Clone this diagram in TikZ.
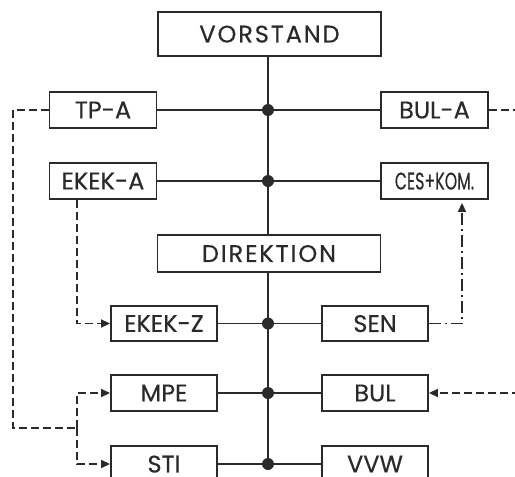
\documentclass[tikz,border=0pt]{standalone}
\usepackage{fontspec}
\setmainfont{Poppins}
\newfontfamily\boxfont{Poppins}[FakeBold=0.4]
\newfontfamily\widefont{Poppins}[LetterSpace=8,FakeBold=0.4]
\usetikzlibrary{arrows.meta}
\definecolor{ink}{HTML}{2A2A2A}
\begin{document}
\begin{tikzpicture}[x=1pt,y=-1pt,line width=1.9pt,draw=ink,
  box/.style={draw=ink,fill=white,inner sep=0pt,minimum width=107pt,minimum height=36pt,text=ink,text depth=0pt,font=\boxfont\fontsize{24}{24}\selectfont},
  bigbox/.style={box,minimum width=223pt,minimum height=44pt,font=\widefont\fontsize{24}{24}\selectfont},
  dsh/.style={draw=ink,line width=1.9pt,dash pattern=on 8pt off 4pt},
  dshdot/.style={draw=ink,line width=1.9pt,dash pattern=on 12pt off 4pt on 2pt off 4pt},
  tip/.style={-{Triangle[length=9pt,width=8pt]}},
  dot/.style={circle,fill=ink,inner sep=0pt,minimum size=12pt}]
\useasboundingbox (0,0) rectangle (515,477);
\clip (0,0) rectangle (515,477);
% boxes
\node[bigbox] (vor) at (269.5,34) {VORSTAND};
\node[bigbox,minimum height=37pt] (dir) at (269,253.5) {DIREKTION};
\node[box] (tpa) at (103,110) {TP-A};
\node[box] (bula) at (434.5,110) {BUL-A};
\node[box] (ekeka) at (103,181) {EKEK-A};
\node[box] (ces) at (434.5,181) {\scalebox{0.66}[1]{CES+KOM.}};
\node[box,minimum width=106pt,minimum height=35pt] (ekekz) at (164,323.5) {EKEK-Z};
\node[box,minimum width=106pt,minimum height=35pt] (sen) at (375,323.5) {SEN};
\node[box,minimum width=106pt] (mpe) at (164,393) {MPE};
\node[box,minimum width=106pt] (bul) at (375,393) {BUL};
\node[box,minimum width=106pt] (sti) at (164,464) {STI};
\node[box,minimum width=106pt] (vvw) at (375,464) {VVW};
% spine coordinates
\coordinate (sx) at (268,0);
\coordinate (d1) at (268,110);
\coordinate (d2) at (268,181);
\coordinate (d3) at (268,323.5);
\coordinate (d4) at (268,393);
\coordinate (d5) at (268,464);
% spine
\draw (vor.south -| sx) -- (dir.north -| sx);
\draw (dir.south -| sx) -- (d5);
% rows
\draw (tpa.east) -- (bula.west);
\draw (ekeka.east) -- (ces.west);
\draw (ekekz.east) -- (sen.west);
\draw (mpe.east) -- (bul.west);
\draw (sti.east) -- (vvw.west);
\foreach \d in {d1,d2,d3,d4,d5} \node[dot] at (\d) {};
% dashed connectors
\coordinate (xl) at (77,0);
\coordinate (xr) at (462,0);
\coordinate (l1) at (13,110);
\coordinate (l2) at (13,428);
\coordinate (j) at (77,428);
\coordinate (r1) at (520,110);
\coordinate (r2) at (520,393);
\draw[dsh] (tpa.west) -- (l1) -- (l2) -- (j);
\draw[dsh,tip] (j) |- (mpe.west);
\draw[dsh,tip] (j) |- (sti.west);
\draw[dsh,tip] (ekeka.south -| xl) |- (ekekz.west);
\draw[dsh] (bula.east) -- (r1);
\draw[dsh,tip] (r2) -- (bul.east);
\draw[dshdot,tip,shorten >=3pt] (sen.east) -| (ces.south -| xr);
\end{tikzpicture}
\end{document}
